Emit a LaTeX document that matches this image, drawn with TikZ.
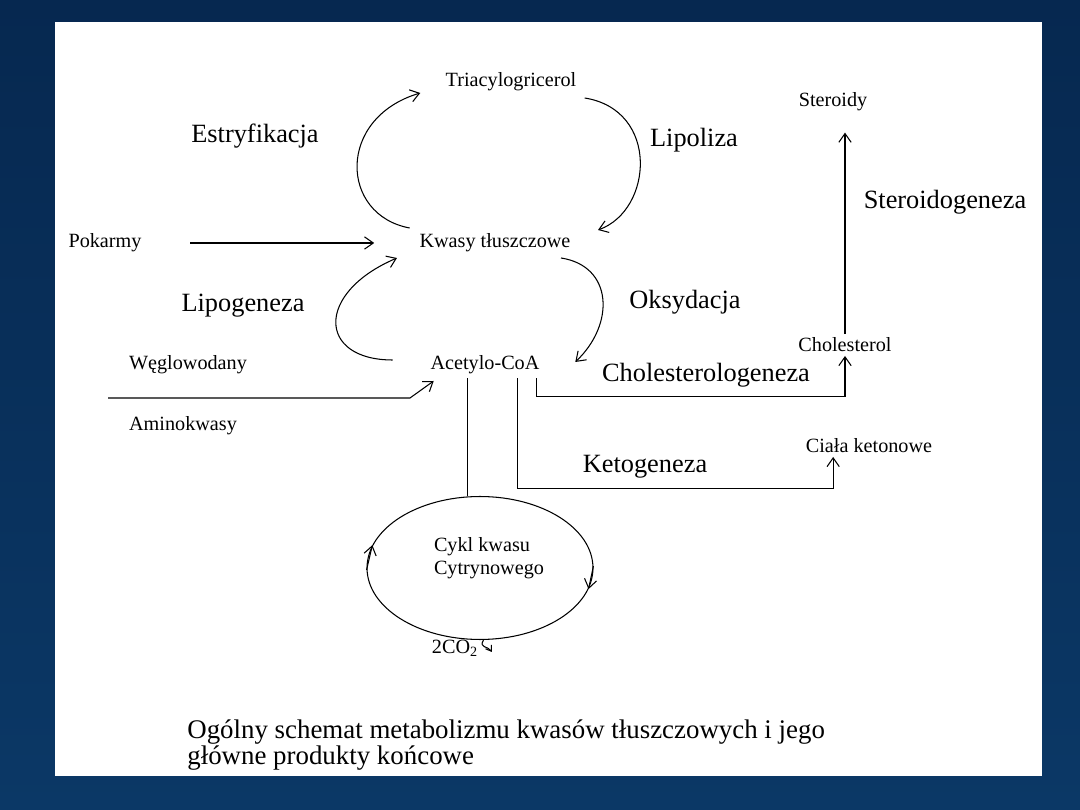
\documentclass[tikz,border=0pt]{standalone}
\usepackage{fontspec}
\setmainfont{Liberation Serif}
\usetikzlibrary{arrows.meta, shapes.geometric}
\definecolor{slideNavy}{HTML}{062850}
\definecolor{slideBlue}{HTML}{124A88}
\definecolor{slideDeep}{HTML}{0B3866}
\colorlet{schemaInk}{black}

\begin{document}
\begin{tikzpicture}[x=0.02cm, y=-0.02cm,
  mala/.style={font=\fontsize{11.5}{13}\selectfont, inner sep=2pt, text=schemaInk},
  duza/.style={font=\fontsize{15}{17}\selectfont, inner sep=2pt, text=schemaInk},
  linia/.style={line width=0.6pt, draw=schemaInk},
  strz/.style={linia, -{Straight Barb[length=5pt,width=7pt]}}]
  % tlo slajdu
  \shade[top color=slideNavy, middle color=slideBlue, bottom color=slideDeep] (0,0) rectangle (1080,810);
  \fill[white] (55,22) rectangle (1042,776);

  % substancje
  \node[mala] (tri) at (511,82) {Triacylogricerol};
  \node[mala] (ster) at (833,102) {Steroidy};
  \node[mala] (pok) at (105,243) {Pokarmy};
  \node[mala] (kwasy) at (495,243) {Kwasy tłuszczowe};
  \node[mala] (chol) at (845,345) {Cholesterol};
  \node[mala] (wegl) at (188,365) {Węglowodany};
  \node[mala] (acet) at (485,365) {Acetylo-CoA};
  \node[mala] (amino) at (183,426) {Aminokwasy};
  \node[mala] (ketony) at (869,446) {Ciała ketonowe};
  \node[ellipse, linia, minimum width=4.52cm, minimum height=2.86cm,
        inner sep=0pt] (cykl) at (480,568) {};
  \node[mala, align=left] (cyklTxt) at (489,558) {Cykl kwasu\\Cytrynowego};
  \node[mala] (co2) at (455,648) {2CO\textsubscript{2}};

  % procesy
  \node[duza] (estr) at (255,136) {Estryfikacja};
  \node[duza] (lipol) at (694,140) {Lipoliza};
  \node[duza] (sterg) at (945,202) {Steroidogeneza};
  \node[duza] (lipog) at (243,306) {Lipogeneza};
  \node[duza] (oks) at (685,302) {Oksydacja};
  \node[duza] (cholg) at (706,375) {Cholesterologeneza};
  \node[duza] (ketog) at (645,467) {Ketogeneza};

  \node[font=\fontsize{15.3}{15}\selectfont, align=left, anchor=west,
        inner sep=0pt] (podpis) at (187,745)
  {Ogólny schemat metabolizmu kwasów tłuszczowych i jego\\główne produkty końcowe};

  % petle
  \draw[strz] ([shift={(-6,-15)}]kwasy.west) .. controls +(-70,-13) and +(-84,25) .. ([shift={(-21.6,11)}]tri.west);
  \draw[strz] ([shift={(4.6,16)}]tri.east) .. controls +(75,12) and +(55,-20) .. ([shift={(23.7,-13)}]kwasy.east);
  \draw[strz] ([shift={(-34,-5)}]acet.west) .. controls +(-75,0) and +(-82,35) .. ([shift={(-18.7,15)}]kwasy.west);
  \draw[strz] ([shift={(-13.3,15)}]kwasy.east) .. controls +(52,8) and +(40,-38) .. ([shift={(32,-3)}]acet.east);

  % wejscia
  \draw[strz, shorten <=25.5pt, shorten >=23.6pt] (pok.east) -- (kwasy.west);
  \coordinate (wej) at (108,398);
  \draw[strz] (wej) -- ++(302,0) -- ([shift={(7,16)}]acet.west);

  % wyjscia z acetylo-CoA
  \draw[linia] ([xshift=-10.2pt]acet.south) -- ([xshift=-10.2pt]acet.south |- cykl.north);
  \draw[strz] ([xshift=18.7pt]acet.south) -- ++(0,110) -| ([xshift=-20.4pt]ketony.south);
  \draw[strz] ([xshift=29.5pt]acet.south) -- ++(0,18) -| (chol.south);
  \draw[strz, shorten >=10pt] (chol.north) -- (chol.north |- ster.south);

  % cykl
  \draw[strz] (cykl.181) -- (cykl.168);
  \draw[strz] (cykl.1) -- (cykl.349);
  \draw[linia, -{Straight Barb[length=3pt,width=4pt]}] ([xshift=2pt]cykl.south)
    .. controls +(-5,8) and +(-4,-6) .. ([shift={(10,4)}]co2.east);
\end{tikzpicture}
\end{document}
